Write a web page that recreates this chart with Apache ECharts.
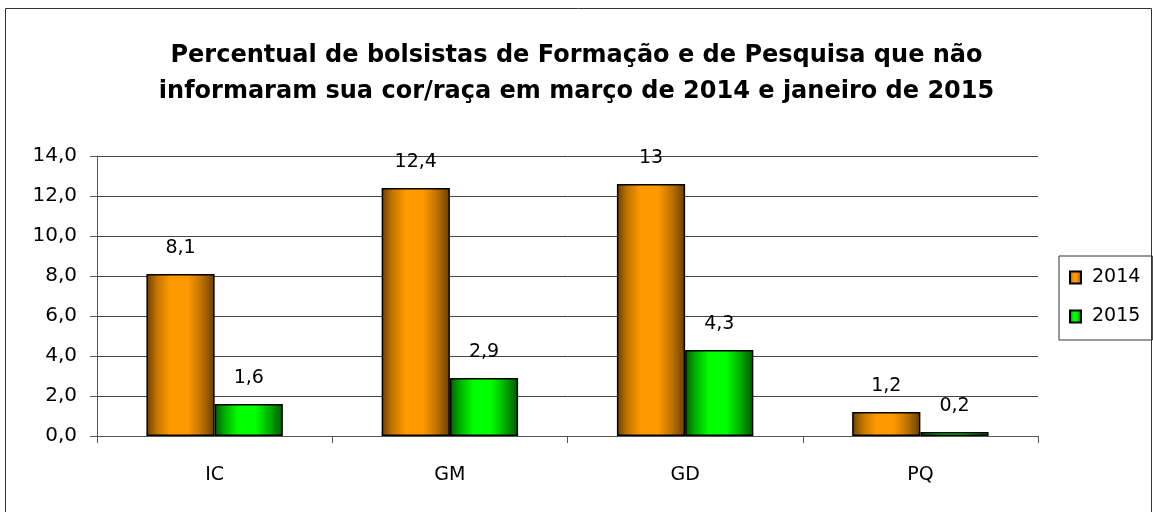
<!DOCTYPE html>
<html>
<head>
<meta charset="utf-8">
<script src="https://cdn.jsdelivr.net/npm/echarts@6/dist/echarts.min.js"></script>
<style>
  html, body { margin: 0; padding: 0; background: #fff; }
  #chart { width: 1153px; height: 512px; }
</style>
</head>
<body>
<div id="chart"></div>
<script>
// categorias e valores (%)
const categorias = ['IC', 'GM', 'GD', 'PQ'];
const valores2014 = [8.1, 12.4, 12.6, 1.2];
const valores2015 = [1.6, 2.9, 4.3, 0.2];
// rótulos como aparecem no gráfico original
const rotulos2014 = ['8,1', '12,4', '13', '1,2'];
const rotulos2015 = ['1,6', '2,9', '4,3', '0,2'];
const ticksY = [0, 2, 4, 6, 8, 10, 12, 14];

const fonte = '"DejaVu Sans", sans-serif';

function gradiente(escuro, medio, claro, escuro2) {
    return new echarts.graphic.LinearGradient(0, 0, 1, 0, [
        { offset: 0, color: escuro },
        { offset: 0.15, color: medio },
        { offset: 0.35, color: claro },
        { offset: 0.6, color: claro },
        { offset: 0.8, color: medio },
        { offset: 1, color: escuro2 }
    ]);
}

const corLaranja = gradiente('#6a3e00', '#c07400', '#ff9900', '#6a3e00');
const corVerde = gradiente('#005a00', '#00b000', '#00ff00', '#005800');

const chart = echarts.init(document.getElementById('chart'));
chart.setOption({
    animation: false,
    textStyle: { fontFamily: fonte },
    graphic: [{
        type: 'rect',
        shape: { x: 5.5, y: 8.5, width: 1146, height: 520 },
        style: { fill: 'none', stroke: '#333', lineWidth: 1 },
        silent: true
    }],
    title: {
        text: 'Percentual de bolsistas de Formação e de Pesquisa que não\ninformaram sua cor/raça em março de 2014 e janeiro de 2015',
        left: 'center',
        top: 33,
        textStyle: {
            fontFamily: fonte,
            fontSize: 24,
            fontWeight: 'bold',
            color: '#000',
            lineHeight: 36
        }
    },
    legend: {
        orient: 'vertical',
        left: 1059,
        top: 256,
        padding: [12, 12, 14, 10],
        itemGap: 20,
        itemWidth: 11,
        itemHeight: 12,
        icon: 'rect',
        borderColor: '#333',
        borderWidth: 1,
        textStyle: { fontFamily: fonte, fontSize: 19, color: '#000', padding: [0, 0, 0, 6] },
        data: ['2014', '2015']
    },
    grid: { left: 97, right: 115, top: 156, bottom: 76 },
    xAxis: {
        type: 'category',
        data: categorias,
        axisLine: { lineStyle: { color: '#555', width: 1 } },
        axisTick: { show: true, length: 7, lineStyle: { color: '#555' } },
        axisLabel: { fontFamily: fonte, fontSize: 19, color: '#000', margin: 30 }
    },
    yAxis: {
        type: 'value',
        min: ticksY[0],
        max: ticksY[ticksY.length - 1],
        interval: 2,
        axisLine: { show: true, lineStyle: { color: '#555' } },
        axisTick: { show: true, length: 7, lineStyle: { color: '#555' } },
        splitLine: { lineStyle: { color: '#444', width: 1 } },
        axisLabel: {
            fontFamily: fonte, fontSize: 20, color: '#000', margin: 20,
            formatter: v => v.toFixed(1).replace('.', ',')
        }
    },
    series: [
        {
            name: '2014',
            type: 'bar',
            data: valores2014,
            barGap: '0%',
            barCategoryGap: '42%',
            itemStyle: { color: corLaranja, borderColor: '#000', borderWidth: 1.5 },
            label: {
                show: true, position: 'top', distance: 16,
                fontFamily: fonte, fontSize: 19, color: '#000',
                formatter: p => rotulos2014[p.dataIndex]
            }
        },
        {
            name: '2015',
            type: 'bar',
            data: valores2015,
            itemStyle: { color: corVerde, borderColor: '#000', borderWidth: 1.5 },
            label: {
                show: true, position: 'top', distance: 16,
                fontFamily: fonte, fontSize: 19, color: '#000',
                formatter: p => rotulos2015[p.dataIndex]
            }
        }
    ]
});
</script>
</body>
</html>
